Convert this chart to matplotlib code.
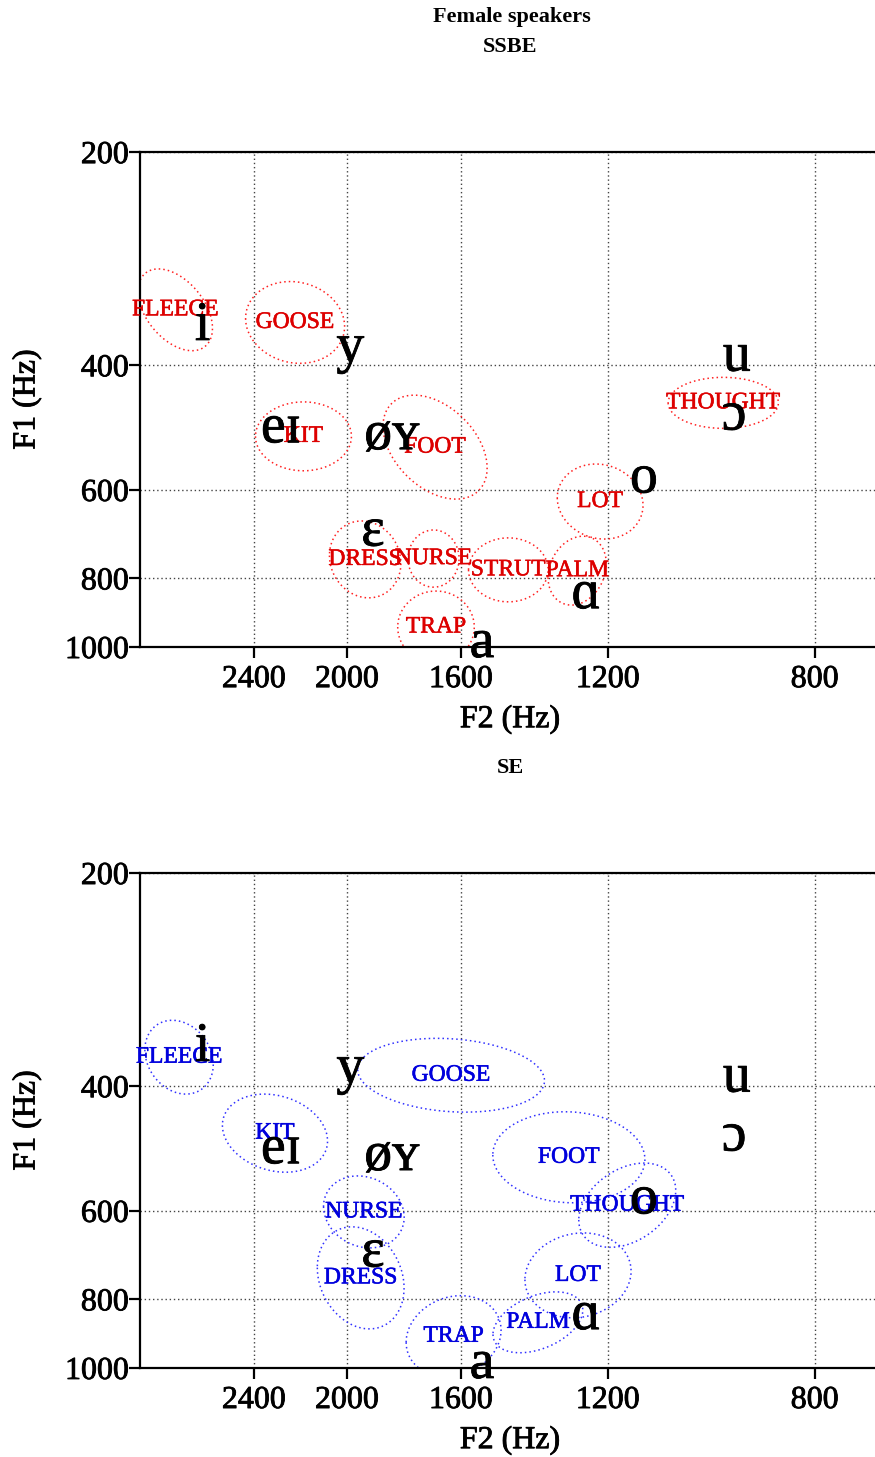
import numpy as np
import matplotlib
matplotlib.use("Agg")
import matplotlib.pyplot as plt
import matplotlib.patheffects as pe
from matplotlib.ticker import FixedLocator, FixedFormatter, NullLocator

plt.rcParams['font.family'] = ['Liberation Serif', 'DejaVu Serif']

# reference IPA vowels (same in both panels)
ipa_symbols = ["i", "y", "eɪ", "øʏ", "ɛ", "a", "ɑ", "o", "u", "ɔ"]
ipa_f2 = [2654, 1987, 2276, 1832, 1901, 1535, 1252, 1118, 932, 937]
ipa_f1 = [352, 378, 491, 502, 687, 987, 842, 578, 389, 471]

# SSBE female speakers: means, log-spread of ellipse, correlation
ssbe_vowels = ["FLEECE", "GOOSE", "KIT", "FOOT", "THOUGHT", "LOT",
               "DRESS", "NURSE", "STRUT", "PALM", "TRAP"]
ssbe_f2 = [2800, 2214, 2178, 1683, 957, 1218, 1930, 1688, 1458, 1274, 1680]
ssbe_f1 = [334, 348, 504, 522, 452, 623, 752, 750, 778, 780, 937]
ssbe_f2_sd = [0.073, 0.097, 0.094, 0.102, 0.108, 0.084, 0.070, 0.050, 0.078, 0.057, 0.075]
ssbe_f1_sd = [0.133, 0.133, 0.112, 0.169, 0.083, 0.122, 0.125, 0.093, 0.104, 0.112, 0.117]
ssbe_rho = [-0.45, -0.1, 0.0, -0.4, 0.0, -0.1, -0.1, 0.0, 0.0, 0.2, 0.0]

# SE female speakers
se_vowels = ["FLEECE", "GOOSE", "KIT", "NURSE", "DRESS", "TRAP",
             "PALM", "LOT", "FOOT", "THOUGHT"]
se_f2 = [2779, 1631, 2303, 1935, 1947, 1623, 1376, 1272, 1295, 1155]
se_f1 = [364, 386, 466, 602, 746, 902, 862, 740, 504, 589]
se_f2_sd = [0.067, 0.183, 0.103, 0.079, 0.085, 0.093, 0.088, 0.104, 0.149, 0.095]
se_f1_sd = [0.120, 0.120, 0.127, 0.117, 0.166, 0.132, 0.099, 0.138, 0.148, 0.137]
se_rho = [-0.2, -0.15, -0.2, -0.15, -0.2, 0.15, 0.4, 0.1, -0.05, 0.35]

f2_ticks = [2400, 2000, 1600, 1200, 800]
f1_ticks = [200, 400, 600, 800, 1000]

heavy = [pe.withStroke(linewidth=0.6, foreground='black')]


def ellipse(f2, f1, sx, sy, rho, n=240):
    t = np.linspace(0, 2 * np.pi, n)
    lx = np.log(f2) + sx * np.cos(t)
    ly = np.log(f1) + sy * (rho * np.cos(t) + np.sqrt(1 - rho ** 2) * np.sin(t))
    return np.exp(lx), np.exp(ly)


def vowel_panel(ax, title, vowels, f2, f1, sx, sy, rho, col_txt, col_line):
    ax.set_xscale('log')
    ax.set_yscale('log')
    ax.set_xlim(3000, 704)
    ax.set_ylim(1000, 200)
    ax.xaxis.set_major_locator(FixedLocator(f2_ticks))
    ax.xaxis.set_major_formatter(FixedFormatter([str(v) for v in f2_ticks]))
    ax.yaxis.set_major_locator(FixedLocator(f1_ticks))
    ax.yaxis.set_major_formatter(FixedFormatter([str(v) for v in f1_ticks]))
    ax.xaxis.set_minor_locator(NullLocator())
    ax.yaxis.set_minor_locator(NullLocator())
    ax.grid(True, linestyle=(0, (1, 2)), color='#444444', linewidth=1.0)
    ax.set_axisbelow(True)
    ax.spines['right'].set_visible(False)
    for s in ['left', 'bottom', 'top']:
        ax.spines[s].set_linewidth(1.6)
    ax.tick_params(axis='both', direction='out', length=8, width=1.6, labelsize=23)
    ax.tick_params(axis='y', pad=0)
    ax.tick_params(axis='x', pad=5)
    for lab in ax.get_xticklabels() + ax.get_yticklabels():
        lab.set_path_effects(heavy)
    ax.set_xlabel('F2 (Hz)', fontsize=23, labelpad=8, path_effects=heavy)
    ax.set_ylabel('F1 (Hz)', fontsize=23, labelpad=17, path_effects=heavy)
    ax.set_title(title, fontsize=16, fontweight='bold', pad=72)

    for i in range(len(vowels)):
        ex, ey = ellipse(f2[i], f1[i], sx[i], sy[i], rho[i])
        ax.plot(ex, ey, linestyle=(0, (1, 2)), color=col_line, linewidth=1.1)
        ax.text(f2[i], f1[i], vowels[i], color=col_txt, fontsize=17,
                ha='center', va='center',
                path_effects=[pe.withStroke(linewidth=0.4, foreground=col_txt)])

    for i in range(len(ipa_symbols)):
        ax.text(ipa_f2[i], ipa_f1[i], ipa_symbols[i], color='black', fontsize=40,
                ha='center', va='center', clip_on=False, path_effects=heavy)


fig = plt.figure(figsize=(8.75, 14.57), dpi=100)
ax1 = fig.add_axes([0.16, 0.5559, 0.8457, 0.3397])
ax2 = fig.add_axes([0.16, 0.0611, 0.8457, 0.3397])

vowel_panel(ax1, 'SSBE', ssbe_vowels, ssbe_f2, ssbe_f1, ssbe_f2_sd, ssbe_f1_sd,
            ssbe_rho, '#dd0000', '#ff2020')
vowel_panel(ax2, 'SE', se_vowels, se_f2, se_f1, se_f2_sd, se_f1_sd,
            se_rho, '#0000dd', '#3030ff')

fig.text(0.5851, 1 - 17 / 1457, 'Female speakers', fontsize=16, fontweight='bold',
         ha='center', va='center')

plt.savefig('out.png', dpi=100)
